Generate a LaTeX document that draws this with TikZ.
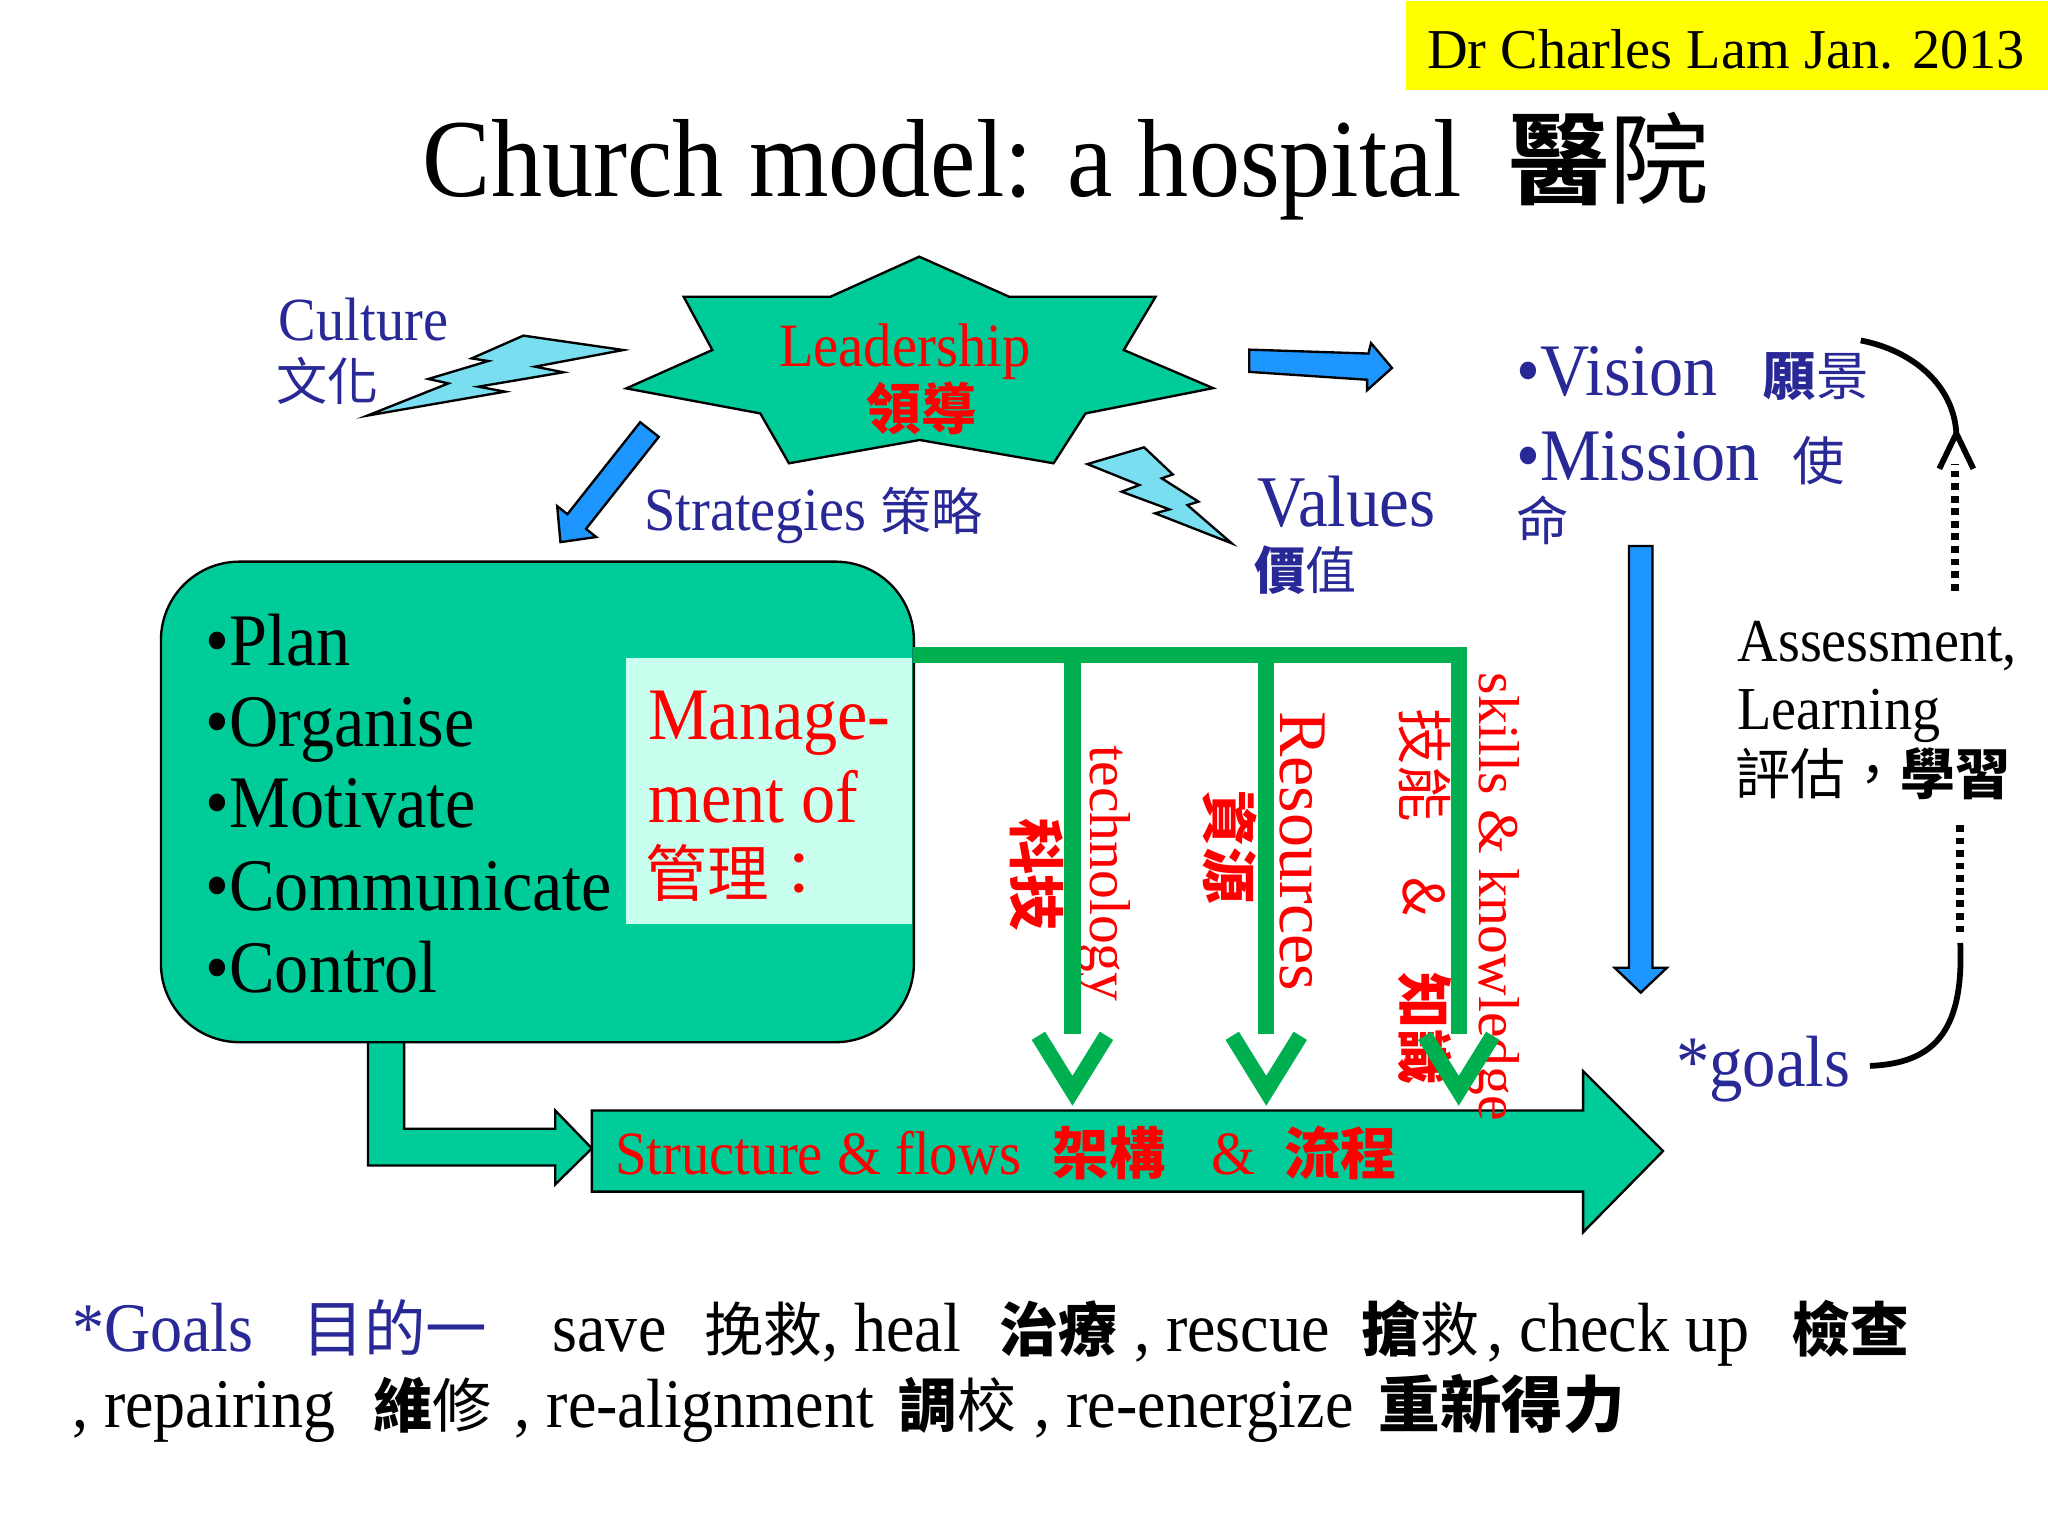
\documentclass[tikz,border=0pt]{standalone}
\usepackage{fontspec}
\setmainfont{Liberation Serif}[FakeStretch=0.92]
\newfontfamily\plainserif{Liberation Serif}
\newfontfamily\cjk{Noto Sans CJK TC}
\newcommand{\zh}[1]{{\cjk #1}}
\newcommand{\zhb}[1]{{\cjk\bfseries #1}}
\newcommand{\setfs}[1]{\fontsize{#1}{#1}\selectfont}
\definecolor{navy}{RGB}{40,40,150}
\definecolor{tealf}{RGB}{0,204,153}
\definecolor{gline}{RGB}{0,176,80}
\definecolor{bluearr}{RGB}{30,150,255}
\definecolor{boltc}{RGB}{120,222,240}
\definecolor{mint}{RGB}{200,255,238}
\definecolor{yel}{RGB}{255,255,0}
\definecolor{redt}{RGB}{255,0,0}
\tikzset{
  txt/.style={inner sep=0pt, outer sep=0pt, anchor=base west},
  outl/.style={draw=black, line width=0.9pt, line join=miter},
  gconn/.style={draw=gline, line width=6.25pt},
  chev/.style={draw=gline, line width=6pt, line join=miter},
  dotl/.style={draw=black, line width=3pt, dash pattern=on 2.6pt off 2.2pt},
  curv/.style={draw=black, line width=2.2pt},
  vlab/.style={inner sep=0pt, outer sep=0pt, rotate=-90, text=redt},
}
\begin{document}
\begin{tikzpicture}[x=0.5pt, y=-0.5pt]
\useasboundingbox (0,0) rectangle (1564,1173);
\fill[white] (0,0) rectangle (1564,1173);

% header
\node[fill=yel, inner sep=0pt, minimum width=245.5pt, minimum height=34pt, anchor=north west] (hdrbox) at (1073,0) {};
\node[txt, font=\plainserif\setfs{21.5}] (hdr) at (1090,52) {Dr Charles Lam Jan. 2013};

% title
\node[txt, font=\setfs{42.4}] (title) at (323,150) {Church model: a hospital};
\node[txt, font=\setfs{38}] (titlezh) at (1153,150) {\zhb{醫}\zh{院}};

% lightning bolts
\draw[outl, fill=boltc] (399.7,256.3) -- (476.0,267.3) -- (408.6,280.0) -- (430.2,284.3) -- (365.3,295.3) -- (385.7,299.1) -- (280.5,317.4) -- (342.4,292.8) -- (327.1,289.4) -- (372.9,275.7) -- (360.2,273.7) -- cycle;
\draw[outl, fill=boltc] (830.4,354.4) -- (873.7,341.6) -- (895.6,362.3) -- (887.2,365.3) -- (915.2,383.1) -- (906.8,385.7) -- (940.6,414.9) -- (882.1,392.0) -- (893.0,389.0) -- (856.6,375.5) -- (870.1,370.4) -- cycle;

% leadership star
\draw[outl, fill=tealf] (702,196) -- (770.6,226.6) -- (882.5,226.6) -- (858.2,267.3) -- (926.4,296.4) -- (829,315.7) -- (804.6,353.8) -- (702.3,336) -- (602.5,353.8) -- (580.6,315.7) -- (478.3,296.6) -- (544,267.3) -- (522.1,226.6) -- (634.2,226.6) -- cycle;
\node[inner sep=0pt, anchor=base, text=redt, font=\setfs{23.5}] (lead) at (691,280) {Leadership};
\node[inner sep=0pt, anchor=base, text=redt, font=\setfs{21}] (leadzh) at (704,328) {\zhb{領導}};

% culture
\node[txt, text=navy, font=\setfs{23.4}] (culture) at (213,260) {Culture};
\node[txt, text=navy, font=\setfs{19.5}] (culturezh) at (211,306) {\zh{文化}};

% block arrows from leadership
\draw[outl, fill=bluearr] (503.1,333.6) -- (488.9,322.4) -- (433.3,392.7) -- (425.5,386.5) -- (428,414) -- (455.3,410.1) -- (447.5,403.9) -- cycle;
\draw[outl, fill=bluearr] (954,267) -- (1045,270) -- (1047,262) -- (1063,281) -- (1044,298) -- (1044,290) -- (954,284) -- cycle;

\node[txt, text=navy, font=\setfs{23.4}] (strat) at (492,405) {Strategies \zh{\setfs{19.5}策略}};

% values
\node[txt, text=navy, font=\setfs{27.8}] (values) at (960,402) {Values};
\node[txt, text=navy, font=\setfs{19.5}] (valueszh) at (958,450) {\zhb{價}\zh{值}};

% vision / mission
\node[txt, text=navy, font=\setfs{28.3}] (vision) at (1158,302) {\textbullet Vision};
\node[txt, text=navy, font=\setfs{20}] (visionzh) at (1347,302) {\zhb{願}\zh{景}};
\node[txt, text=navy, font=\setfs{28.3}] (mission) at (1158,367) {\textbullet Mission};
\node[txt, text=navy, font=\setfs{20}] (missionzh1) at (1369,367) {\zh{使}};
\node[txt, text=navy, font=\setfs{20}] (missionzh2) at (1158,413) {\zh{命}};

% blue down arrow
\draw[outl, fill=bluearr] (1244,417) -- (1262,417) -- (1262,739) -- (1273,739) -- (1253,758) -- (1233,739) -- (1244,739) -- cycle;

% elbow arrow (behind management box)
\draw[outl, fill=tealf] (281,780) -- (281,890) -- (424,890) -- (424,904.5) -- (452,877) -- (424,848) -- (424,862) -- (308.6,862) -- (308.6,780) -- cycle;

% management box
\node[outl, fill=tealf, rounded corners=30pt, inner sep=0pt, minimum width=287.5pt, minimum height=183.5pt, anchor=north west] (mbox) at (122,428) {};
\node[fill=mint, inner sep=0pt, minimum width=109pt, minimum height=101.5pt, anchor=north west] (mgmt) at (478,502) {};
\foreach \t/\yy/\nm in {Plan/508/b1, Organise/570/b2, Motivate/632/b3, Communicate/695/b4, Control/758/b5}
  \node[txt, font=\setfs{28.3}] (\nm) at (157,\yy) {\textbullet\t};
\node[txt, text=redt, font=\setfs{28.3}] (man1) at (495,565) {Manage-};
\node[txt, text=redt, font=\setfs{28.3}] (man2) at (495,628) {ment of};
\node[txt, text=redt, font=\setfs{23.5}] (man3) at (493,685) {\zh{管理：}};

% structure arrow
\draw[outl, fill=tealf] (452,848) -- (1209,848) -- (1209,818) -- (1270,879) -- (1209,941) -- (1209,910) -- (452,910) -- cycle;
\node[txt, text=redt, font=\setfs{23.5}] (structen) at (470,897) {Structure \& flows};
\node[txt, text=redt, font=\setfs{21.5}] (structzh1) at (804,897) {\zhb{架構}};
\node[txt, text=redt, font=\setfs{23.5}] (structamp) at (925,897) {\&};
\node[txt, text=redt, font=\setfs{21.5}] (structzh2) at (981,897) {\zhb{流程}};

% vertical labels
\node[vlab, font=\plainserif\setfs{22}] (techen) at (843,667) {technology};
\node[vlab, font=\setfs{21.5}] (techzh) at (792,668) {\zhb{科技}};
\node[vlab, font=\plainserif\setfs{26}] (resen) at (995,650) {Resources};
\node[vlab, font=\setfs{21.5}] (reszh) at (939,647) {\zhb{資源}};
\node[vlab, font=\plainserif\setfs{22}] (skillen) at (1140,685) {skills \& knowledge};
\node[vlab, font=\setfs{21.5}] (skillzh) at (1088,685) {\zh{技能　\&　}\zhb{知識}};

% green connectors
\coordinate (barL) at (697,500);
\coordinate (j1) at (819,500);
\coordinate (j2) at (967,500);
\coordinate (j3) at (1114,500);
\coordinate (e1) at (819,790);
\coordinate (e2) at (967,790);
\coordinate (e3) at (1114,790);
\draw[gconn, line join=miter] (barL) -- (j3) -- (e3);
\draw[gconn] (j1) -- (e1);
\draw[gconn] (j2) -- (e2);
\draw[chev] (793,791) -- (819,833) -- (845,791);
\draw[chev] (941,791) -- (967,833) -- (993,791);
\draw[chev] (1088,791) -- (1114,833) -- (1140,791);

% assessment
\node[txt, font=\setfs{23.3}] (assess1) at (1327,505) {Assessment,};
\node[txt, font=\setfs{23.3}] (assess2) at (1327,557) {Learning};
\node[txt, font=\setfs{21}] (assess3) at (1325,607) {\zh{評估，}\zhb{學習}};

% goals
\node[txt, text=navy, font=\setfs{27.7}] (goals) at (1280,830) {*goals};

% feedback loop
\coordinate (arcTop) at (1421,260);
\coordinate (tipUp) at (1494,331);
\draw[curv] (arcTop) .. controls (1462,268) and (1492,295) .. (tipUp);
\draw[curv, line join=miter] (1481,358) -- (tipUp) -- (1507,358);
\draw[dotl] (1493,451) -- (1493,354);
\draw[dotl] (1497,630) -- (1497,716);
\draw[curv] (1497,720) .. controls (1500,790) and (1475,812) .. (1428,814);

% bottom text
\begin{scope}[every node/.style={txt, font=\setfs{26.6}}]
\node[text=navy] (g1) at (55,1032) {*Goals};
\node[text=navy, font=\setfs{23.5}] (g2) at (231,1032) {\zh{目的一}};
\node (g3) at (422,1032) {save};
\node[font=\setfs{22.5}] (g4) at (538,1032) {\zh{挽救}};
\node (g5) at (628,1032) {, heal};
\node[font=\setfs{22.5}] (g6) at (763,1032) {\zhb{治療}};
\node (g7) at (866,1032) {, rescue};
\node[font=\setfs{22.5}] (g8) at (1040,1032) {\zhb{搶}\zh{救}};
\node (g9) at (1136,1032) {, check up};
\node[font=\setfs{22.5}] (g10) at (1368,1032) {\zhb{檢查}};
\node (h1) at (55,1090) {, repairing};
\node[font=\setfs{22.5}] (h2) at (285,1090) {\zhb{維}\zh{修}};
\node (h3) at (393,1090) {, re-alignment};
\node[font=\setfs{22.5}] (h4) at (686,1090) {\zhb{調}\zh{校}};
\node (h5) at (790,1090) {, re-energize};
\node[font=\setfs{23.5}] (h6) at (1053,1090) {\zhb{重新得力}};
\end{scope}
\end{tikzpicture}
\end{document}
